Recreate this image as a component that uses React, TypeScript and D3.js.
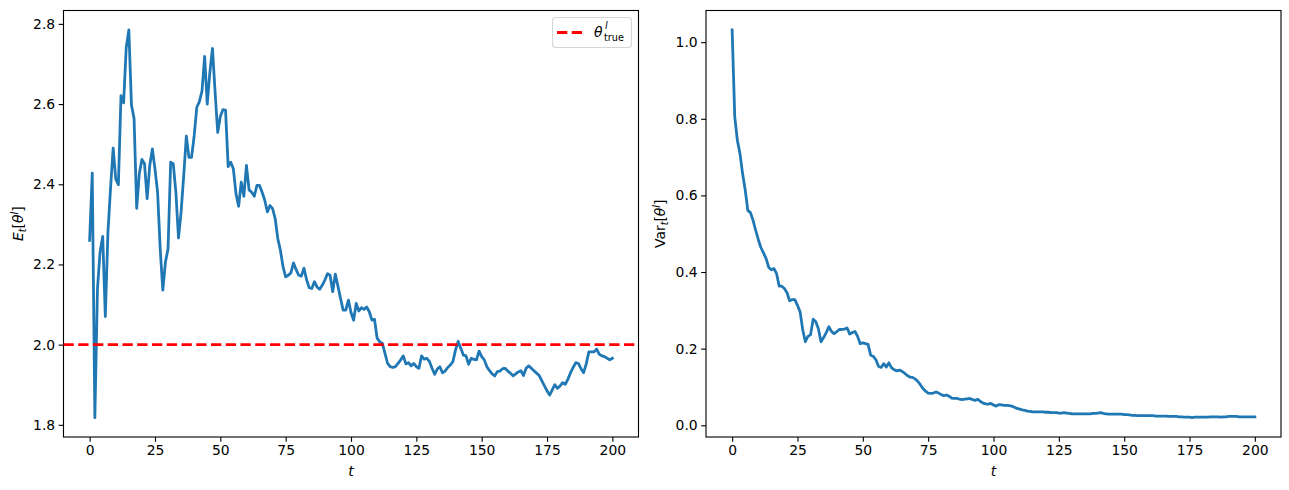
import React, { useRef, useEffect } from 'react';
import * as d3 from 'd3';

// posterior mean E_t[theta^l], t = 0..200
const meanValues = [
  2.260, 2.428, 1.818, 2.14, 2.232, 2.270, 2.070, 2.28, 2.39, 2.490,
  2.413, 2.399, 2.621, 2.603, 2.741, 2.785, 2.598, 2.564, 2.340, 2.426,
  2.462, 2.451, 2.364, 2.447, 2.488, 2.438, 2.380, 2.239, 2.136, 2.206,
  2.239, 2.455, 2.451, 2.380, 2.266, 2.331, 2.422, 2.520, 2.467, 2.467,
  2.521, 2.592, 2.606, 2.633, 2.719, 2.600, 2.679, 2.739, 2.630, 2.529,
  2.569, 2.586, 2.585, 2.444, 2.455, 2.438, 2.376, 2.345, 2.405, 2.370,
  2.447, 2.386, 2.380, 2.370, 2.397, 2.397, 2.380, 2.360, 2.331, 2.347,
  2.339, 2.314, 2.264, 2.235, 2.194, 2.169, 2.173, 2.179, 2.204, 2.187,
  2.173, 2.171, 2.191, 2.162, 2.142, 2.140, 2.157, 2.144, 2.138, 2.148,
  2.161, 2.177, 2.173, 2.132, 2.176, 2.146, 2.115, 2.086, 2.086, 2.111,
  2.080, 2.061, 2.103, 2.084, 2.092, 2.088, 2.094, 2.082, 2.061, 2.063,
  2.016, 2.007, 2.003, 1.978, 1.953, 1.945, 1.943, 1.945, 1.953, 1.962,
  1.972, 1.952, 1.955, 1.947, 1.953, 1.945, 1.941, 1.972, 1.964, 1.966,
  1.958, 1.941, 1.926, 1.939, 1.945, 1.930, 1.934, 1.943, 1.949, 1.958,
  1.987, 2.008, 1.991, 1.974, 1.972, 1.951, 1.966, 1.963, 1.962, 1.984,
  1.970, 1.962, 1.945, 1.935, 1.927, 1.922, 1.933, 1.934, 1.940, 1.941,
  1.934, 1.929, 1.922, 1.927, 1.932, 1.935, 1.923, 1.941, 1.947, 1.941,
  1.935, 1.929, 1.923, 1.910, 1.897, 1.885, 1.874, 1.887, 1.900, 1.891,
  1.897, 1.905, 1.901, 1.914, 1.930, 1.943, 1.955, 1.953, 1.940, 1.930,
  1.952, 1.982, 1.982, 1.982, 1.989, 1.976, 1.972, 1.970, 1.966, 1.962,
  1.966,
];

// posterior variance Var_t[theta^l], t = 0..200
const varValues = [
  1.032, 0.805, 0.744, 0.709, 0.657, 0.614, 0.561, 0.555, 0.535, 0.509,
  0.485, 0.464, 0.450, 0.435, 0.412, 0.406, 0.409, 0.396, 0.363, 0.363,
  0.357, 0.346, 0.325, 0.328, 0.328, 0.313, 0.296, 0.250, 0.218, 0.232,
  0.236, 0.277, 0.270, 0.252, 0.218, 0.229, 0.242, 0.257, 0.245, 0.239,
  0.244, 0.250, 0.250, 0.251, 0.254, 0.238, 0.242, 0.245, 0.232, 0.213,
  0.215, 0.213, 0.211, 0.183, 0.180, 0.171, 0.154, 0.151, 0.161, 0.152,
  0.163, 0.150, 0.145, 0.142, 0.144, 0.141, 0.136, 0.130, 0.126, 0.125,
  0.121, 0.115, 0.106, 0.096, 0.089, 0.084, 0.083, 0.084, 0.087, 0.084,
  0.080, 0.077, 0.079, 0.076, 0.071, 0.070, 0.070, 0.068, 0.067, 0.068,
  0.069, 0.070, 0.067, 0.065, 0.068, 0.062, 0.058, 0.056, 0.055, 0.057,
  0.053, 0.050, 0.054, 0.053, 0.052, 0.052, 0.051, 0.050, 0.047, 0.044,
  0.042, 0.040, 0.039, 0.037, 0.036, 0.035, 0.035, 0.035, 0.035, 0.035,
  0.034, 0.034, 0.033, 0.033, 0.033, 0.032, 0.032, 0.033, 0.032, 0.031,
  0.030, 0.030, 0.030, 0.030, 0.030, 0.030, 0.030, 0.030, 0.031, 0.031,
  0.032, 0.033, 0.031, 0.030, 0.029, 0.029, 0.029, 0.029, 0.029, 0.029,
  0.028, 0.028, 0.027, 0.026, 0.026, 0.025, 0.025, 0.025, 0.025, 0.025,
  0.025, 0.025, 0.024, 0.024, 0.024, 0.024, 0.024, 0.023, 0.023, 0.023,
  0.023, 0.022, 0.022, 0.021, 0.021, 0.021, 0.020, 0.021, 0.021, 0.021,
  0.021, 0.021, 0.021, 0.022, 0.022, 0.022, 0.022, 0.021, 0.022, 0.022,
  0.023, 0.023, 0.023, 0.023, 0.022, 0.022, 0.022, 0.022, 0.022, 0.022,
  0.022,
];

const thetaTrue = 2.0;
const xTicks = [0, 25, 50, 75, 100, 125, 150, 175, 200];
const meanTicks = [1.8, 2.0, 2.2, 2.4, 2.6, 2.8];
const varTicks = [0.0, 0.2, 0.4, 0.6, 0.8, 1.0];

const W = 1289;
const H = 490;
const TOP = 10.5;
const BOTTOM = 437;
const FONT = 'DejaVu Sans';
const FS = 13.9;
const BLUE = '#1f77b4';

const padded = (vals: number[]): [number, number] => {
  const [lo, hi] = d3.extent(vals) as [number, number];
  const m = (hi - lo) * 0.05;
  return [lo - m, hi + m];
};

const App: React.FC = () => {
  const svgRef = useRef<SVGSVGElement | null>(null);

  useEffect(() => {
    const svg = d3.select(svgRef.current);
    svg.selectAll('*').remove();

    const drawPanel = (x0: number, x1: number, values: number[], yTicks: number[]) => {
      const x = d3.scaleLinear().domain([-10, 210]).range([x0, x1]);
      const y = d3.scaleLinear().domain(padded(values)).range([BOTTOM, TOP]);
      const g = svg.append('g');

      const line = d3
        .line<number>()
        .x((_, i) => x(i))
        .y(d => y(d));

      g.append('path')
        .attr('d', line(values)!)
        .attr('fill', 'none')
        .attr('stroke', BLUE)
        .attr('stroke-width', 2.78)
        .attr('stroke-linejoin', 'round')
        .attr('stroke-linecap', 'square');

      const xAxis = g
        .append('g')
        .attr('transform', `translate(0,${BOTTOM})`)
        .call(d3.axisBottom(x).tickValues(xTicks).tickSize(4.86).tickPadding(3.4).tickFormat(d3.format('d')));
      const yAxis = g
        .append('g')
        .attr('transform', `translate(${x0},0)`)
        .call(d3.axisLeft(y).tickValues(yTicks).tickSize(4.86).tickPadding(3.5).tickFormat(d3.format('.1f')));

      [xAxis, yAxis].forEach(a => {
        a.select('.domain').remove();
        a.selectAll('line').attr('stroke', '#000').attr('stroke-width', 1.11);
        a.selectAll('text').attr('font-family', FONT).attr('font-size', FS).attr('fill', '#000');
      });

      g.append('rect')
        .attr('x', x0)
        .attr('y', TOP)
        .attr('width', x1 - x0)
        .attr('height', BOTTOM - TOP)
        .attr('fill', 'none')
        .attr('stroke', '#000')
        .attr('stroke-width', 1.11);

      g.append('text')
        .attr('x', (x0 + x1) / 2)
        .attr('y', 476)
        .attr('text-anchor', 'middle')
        .attr('font-family', FONT)
        .attr('font-size', FS)
        .attr('font-style', 'italic')
        .text('t');

      return { x, y, g };
    };

    // left panel: posterior mean
    const left = drawPanel(63.5, 638.5, meanValues, meanTicks);
    left.g
      .append('line')
      .attr('x1', 63.5)
      .attr('x2', 638.5)
      .attr('y1', left.y(thetaTrue))
      .attr('y2', left.y(thetaTrue))
      .attr('stroke', '#ff0000')
      .attr('stroke-width', 2.78)
      .attr('stroke-dasharray', '10.3,4.45');

    // legend
    const lg = svg.append('g');
    lg.append('rect')
      .attr('x', 552.5)
      .attr('y', 17.5)
      .attr('width', 79)
      .attr('height', 30)
      .attr('rx', 3)
      .attr('fill', '#fff')
      .attr('fill-opacity', 0.8)
      .attr('stroke', '#d6d6d6')
      .attr('stroke-width', 1.11);
    lg.append('line')
      .attr('x1', 557)
      .attr('x2', 583)
      .attr('y1', 32.5)
      .attr('y2', 32.5)
      .attr('stroke', '#ff0000')
      .attr('stroke-width', 2.78)
      .attr('stroke-dasharray', '10.3,4.45');
    lg.append('text')
      .attr('x', 594)
      .attr('y', 36.5)
      .attr('font-family', FONT)
      .attr('font-size', FS)
      .attr('font-style', 'italic')
      .text('θ');
    lg.append('text')
      .attr('x', 605)
      .attr('y', 29)
      .attr('font-family', FONT)
      .attr('font-size', 9.7)
      .attr('font-style', 'italic')
      .text('l');
    lg.append('text')
      .attr('x', 604)
      .attr('y', 40.5)
      .attr('font-family', FONT)
      .attr('font-size', 9.7)
      .text('true');

    // left y label: E_t[θ^l]
    const ly = svg
      .append('text')
      .attr('transform', `translate(23,${(TOP + BOTTOM) / 2}) rotate(-90)`)
      .attr('text-anchor', 'middle')
      .attr('font-family', FONT)
      .attr('font-size', FS);
    ly.append('tspan').attr('font-style', 'italic').text('E');
    ly.append('tspan').attr('font-style', 'italic').attr('font-size', 9.7).attr('dy', 2.8).text('t');
    ly.append('tspan').attr('dy', -2.8).text('[');
    ly.append('tspan').attr('font-style', 'italic').text('θ');
    ly.append('tspan').attr('font-style', 'italic').attr('font-size', 9.7).attr('dy', -5.5).text('l');
    ly.append('tspan').attr('dy', 5.5).text(']');

    // right panel: posterior variance
    drawPanel(706, 1281, varValues, varTicks);

    const ry = svg
      .append('text')
      .attr('transform', `translate(665,${(TOP + BOTTOM) / 2}) rotate(-90)`)
      .attr('text-anchor', 'middle')
      .attr('font-family', FONT)
      .attr('font-size', FS);
    ry.append('tspan').text('Var');
    ry.append('tspan').attr('font-style', 'italic').attr('font-size', 9.7).attr('dy', 2.8).text('t');
    ry.append('tspan').attr('dy', -2.8).text('[');
    ry.append('tspan').attr('font-style', 'italic').text('θ');
    ry.append('tspan').attr('font-style', 'italic').attr('font-size', 9.7).attr('dy', -5.5).text('l');
    ry.append('tspan').attr('dy', 5.5).text(']');
  }, []);

  return (
    <svg
      ref={svgRef}
      width={W}
      height={H}
      style={{ position: 'absolute', left: 0, top: 0, background: '#fff' }}
    />
  );
};

export default App;
